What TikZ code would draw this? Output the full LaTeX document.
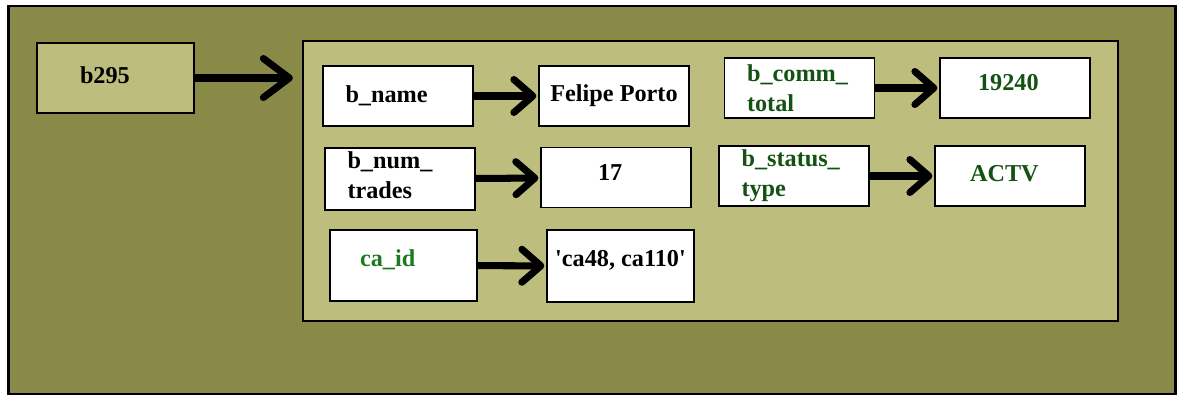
\documentclass[tikz,border=0pt]{standalone}
\usepackage{fontspec}
\setmainfont{Liberation Serif}
\usetikzlibrary{arrows.meta,positioning}

\definecolor{olivedark}{HTML}{8A8A48}
\definecolor{olivelight}{HTML}{BDBD7D}
\definecolor{valgreen}{HTML}{145214}
\definecolor{keygreen}{HTML}{1F7A1F}

\begin{document}
\begin{tikzpicture}[
  x=0.02cm, y=-0.02cm,
  font=\fontsize{13.8}{17}\selectfont\bfseries,
  cell/.style = {rectangle, draw, line width=1pt, fill=white, align=left,
                 minimum width=3cm, minimum height=1.2cm, inner sep=2pt},
  keycell/.style = {cell, text width=2.1cm},
  arr/.style = {line width=4pt, shorten >=1pt,
                -{Straight Barb[length=0.38cm, width=0.66cm, round]}},
  bigarr/.style = {arr, shorten >=5pt,
                   -{Straight Barb[length=0.52cm, width=0.78cm, round]}}
]
\useasboundingbox (0,0) rectangle (1179,396);

% frames
\node[rectangle, draw, line width=1.6pt, fill=olivedark,
      minimum width=23.36cm, minimum height=7.76cm] (outer) at (592,200) {};
\node[rectangle, draw, line width=1.6pt, fill=olivelight,
      minimum width=16.3cm, minimum height=5.6cm] (frame) at (710.5,181) {};

\node[cell, fill=olivelight, minimum width=3.14cm, minimum height=1.4cm,
      text width=1.42cm, text depth=3.4pt] (b295) at (115.5,78) {b295};

% attribute boxes
\node[keycell] (bname)   at (398,96)     {b\_name};
\node[cell]    (felipe)  at (614,96)     {Felipe Porto};
\node[keycell, text depth=21.5pt] (bnum) at (400,179) {b\_num\_\\trades};
\node[cell, text width=0.72cm, text depth=6.2pt] (v17) at (616,177.5) {17};
\node[cell, minimum width=2.94cm, minimum height=1.42cm, text width=1.74cm,
      text depth=8pt] (caid) at (403.5,265.5) {\textcolor{keygreen}{ca\_id}};
\node[cell, minimum width=2.94cm, minimum height=1.44cm, text depth=9pt]
      (vca) at (620.5,266) {\textquotesingle ca48, ca110\textquotesingle};

\node[keycell] (bcomm)   at (799.5,88)   {\textcolor{valgreen}{b\_comm\_}\\\textcolor{valgreen}{total}};
\node[cell, text width=1.48cm, text depth=6.8pt] (v19240) at (1015,88) {\textcolor{valgreen}{19240}};
\node[keycell] (bstatus) at (794,176)    {\textcolor{valgreen}{b\_status\_}\\\textcolor{valgreen}{type}};
\node[cell, text width=1.6cm, text depth=3.4pt] (actv) at (1010,176) {\textcolor{valgreen}{ACTV}};

% connectors
\draw[bigarr] (b295.east) -- (b295.east -| frame.west);
\draw[arr] (bname)   -- (felipe);
\draw[arr] (bnum)    -- (v17);
\draw[arr] (caid)    -- (vca);
\draw[arr] (bcomm)   -- (v19240);
\draw[arr] (bstatus) -- (actv);
\end{tikzpicture}
\end{document}
